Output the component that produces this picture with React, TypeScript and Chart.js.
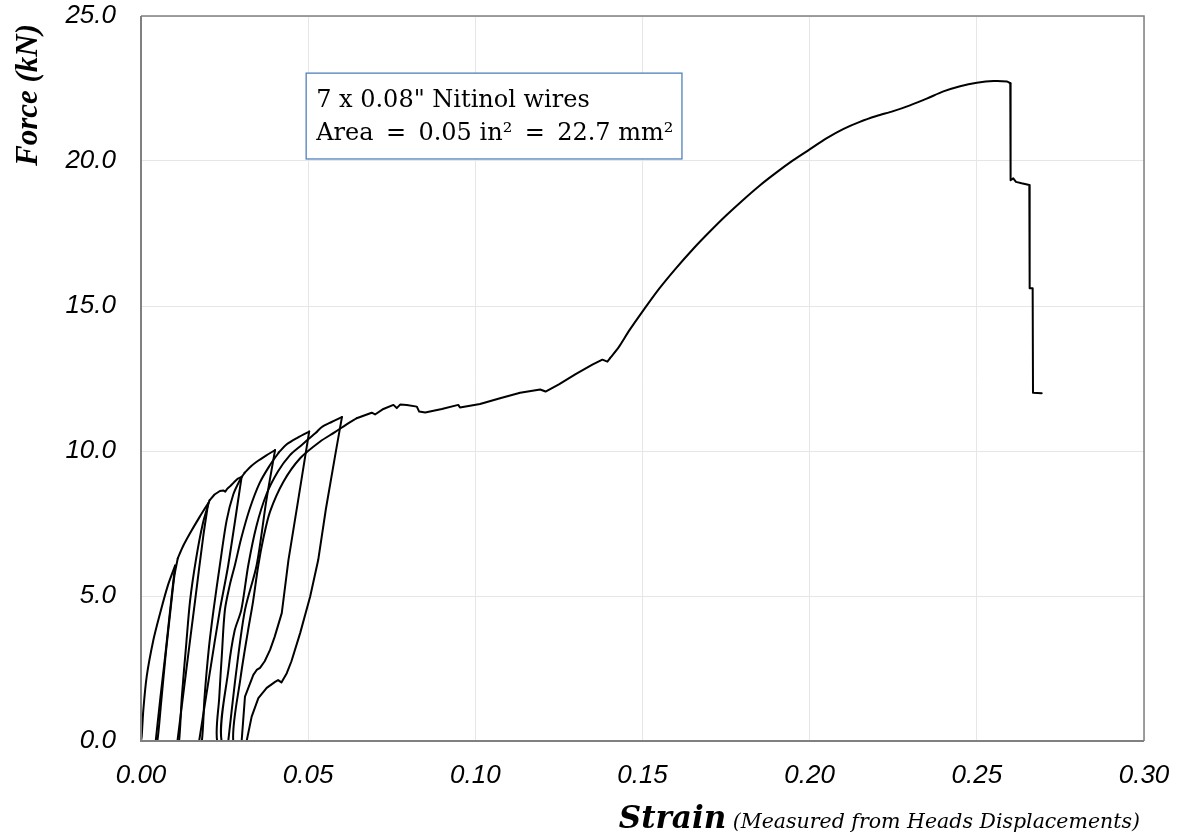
import React, { useEffect, useRef } from "react";
import { Chart, registerables } from "chart.js";

Chart.register(...registerables);

// ---- axis ticks ----
const xTicks = [0, 0.05, 0.1, 0.15, 0.2, 0.25, 0.3];
const yTicks = [0, 5, 10, 15, 20, 25];

// ---- data segments (strain, force kN), in test order ----
const env0Strain = [0, 0.0002, 0.0007, 0.0017, 0.0037, 0.0057, 0.008, 0.0102];
const env0Force = [0, 0.15, 1.07, 2.22, 3.48, 4.4, 5.35, 6.05];

const c1DownStrain = [0.0087, 0.0073, 0.0058, 0.0044];
const c1DownForce = [4.5, 3.0, 1.5, 0];
const c1UpStrain = [0.0049, 0.006, 0.0074, 0.0089, 0.01, 0.011];
const c1UpForce = [0, 1.3, 3.0, 4.6, 5.7, 6.3];

const env1Strain = [0.0125, 0.0147, 0.0175, 0.0201];
const env1Force = [6.7, 7.17, 7.72, 8.2];

const c2DownStrain = [0.0186, 0.0162, 0.0135, 0.0109];
const c2DownForce = [7.04, 4.86, 2.4, 0];
const c2UpStrain = [0.0114, 0.0122, 0.0135, 0.0147, 0.0165, 0.0185, 0.0205];
const c2UpForce = [0, 1.5, 3.3, 4.86, 6.3, 7.5, 8.3];

const env2Strain = [0.022, 0.0236, 0.0246, 0.0252, 0.0258, 0.0268, 0.0278, 0.029, 0.0301];
const env2Force = [8.5, 8.62, 8.64, 8.6, 8.7, 8.8, 8.92, 9.05, 9.11];

const c3DownStrain = [0.0261, 0.0236, 0.0205, 0.0174];
const c3DownForce = [6.07, 4.52, 2.3, 0];
const c3UpStrain = [0.0182, 0.019, 0.0203, 0.0217, 0.0236, 0.0256, 0.0276, 0.0296, 0.031];
const c3UpForce = [0, 1.5, 3.2, 4.52, 6.07, 7.6, 8.5, 9.0, 9.25];

const env3Strain = [0.033, 0.0346, 0.0375, 0.0401];
const env3Force = [9.48, 9.63, 9.85, 10.03];

const c4DownStrain = [0.0375, 0.0346, 0.0311, 0.0285, 0.0261];
const c4DownForce = [8.3, 6.07, 4.52, 2.4, 0];
const c4UpStrain = [0.0228, 0.0234, 0.0242, 0.0251, 0.0266, 0.0281, 0.03, 0.0325, 0.0355, 0.0385, 0.0412];
const c4UpForce = [0, 1.5, 3.0, 4.52, 5.4, 6.07, 7.0, 8.0, 8.9, 9.5, 9.95];

const env4Strain = [0.0436, 0.047, 0.0503];
const env4Force = [10.23, 10.47, 10.67];

const c5DownStrain = [0.047, 0.0441, 0.0421, 0.04, 0.0386, 0.037, 0.0356, 0.0346, 0.0336, 0.0311, 0.0301];
const c5DownForce = [8.3, 6.24, 4.41, 3.6, 3.14, 2.75, 2.52, 2.45, 2.28, 1.53, 0];
const c5UpStrain = [0.0241, 0.0262, 0.028, 0.03, 0.0321, 0.0345, 0.0375, 0.041, 0.0445, 0.048, 0.051, 0.0525];
const c5UpForce = [0, 2.5, 3.8, 4.52, 6.07, 7.4, 8.5, 9.3, 9.85, 10.2, 10.5, 10.65];

const env5Strain = [0.054, 0.057, 0.0601];
const env5Force = [10.82, 11.0, 11.17];

const c6DownStrain = [0.058, 0.0553, 0.053, 0.0506, 0.0476, 0.045, 0.0436, 0.042, 0.041, 0.0401, 0.0376, 0.0351, 0.0331, 0.0316];
const c6DownForce = [9.8, 8.0, 6.24, 4.98, 3.72, 2.75, 2.34, 2.02, 2.1, 2.04, 1.83, 1.48, 0.84, 0];
const c6UpStrain = [0.0276, 0.0298, 0.032, 0.0335, 0.0351, 0.0366, 0.0386, 0.0426, 0.0476, 0.0535, 0.058, 0.0615, 0.0645];
const c6UpForce = [0, 2.2, 3.8, 4.8, 6.07, 6.99, 7.91, 8.94, 9.75, 10.32, 10.65, 10.92, 11.13];

const plateauStrain = [
  0.069, 0.07, 0.0725, 0.0755, 0.0765, 0.0775, 0.0795, 0.0825, 0.0832, 0.085, 0.09, 0.0949, 0.0954,
  0.1014, 0.1074, 0.1134, 0.1194, 0.121, 0.125, 0.13, 0.135, 0.138, 0.1395, 0.1403,
];
const plateauForce = [
  11.32, 11.26, 11.45, 11.59, 11.48, 11.6, 11.59, 11.53, 11.36, 11.33, 11.45, 11.59, 11.5,
  11.62, 11.82, 12.01, 12.12, 12.05, 12.3, 12.65, 12.98, 13.15, 13.08, 13.2,
];

const hardenStrain = [
  0.143, 0.146, 0.1503, 0.155, 0.16, 0.165, 0.17, 0.175, 0.18, 0.185, 0.19, 0.195, 0.2, 0.205,
  0.21, 0.215, 0.22, 0.225, 0.23, 0.235, 0.24, 0.245, 0.25, 0.255, 0.259, 0.26,
];
const hardenForce = [
  13.6, 14.15, 14.86, 15.6, 16.3, 16.95, 17.55, 18.12, 18.65, 19.15, 19.6, 20.02, 20.4, 20.78,
  21.1, 21.35, 21.55, 21.72, 21.92, 22.15, 22.4, 22.58, 22.7, 22.76, 22.74, 22.68,
];

const fractureStrain = [0.2601, 0.2609, 0.2617, 0.2634, 0.2657, 0.2658, 0.2667, 0.2668, 0.2694];
const fractureForce = [19.34, 19.4, 19.28, 19.23, 19.17, 15.61, 15.61, 12.01, 11.99];

// [strain, force, smooth?]
const segments: [number[], number[], boolean][] = [
  [env0Strain, env0Force, true],
  [c1DownStrain, c1DownForce, true],
  [c1UpStrain, c1UpForce, true],
  [env1Strain, env1Force, true],
  [c2DownStrain, c2DownForce, true],
  [c2UpStrain, c2UpForce, true],
  [env2Strain, env2Force, false],
  [c3DownStrain, c3DownForce, true],
  [c3UpStrain, c3UpForce, true],
  [env3Strain, env3Force, true],
  [c4DownStrain, c4DownForce, true],
  [c4UpStrain, c4UpForce, true],
  [env4Strain, env4Force, true],
  [c5DownStrain, c5DownForce, false],
  [c5UpStrain, c5UpForce, true],
  [env5Strain, env5Force, true],
  [c6DownStrain, c6DownForce, false],
  [c6UpStrain, c6UpForce, true],
  [plateauStrain, plateauForce, false],
  [hardenStrain, hardenForce, true],
  [fractureStrain, fractureForce, false],
];

const noteLine1 = '7 x 0.08" Nitinol wires';
const noteLine2 = "Area \u2009=\u2009 0.05 in\u00B2 \u2009=\u2009 22.7 mm\u00B2";
const yTitle = "Force (kN)";
const xTitleMain = "Strain";
const xTitleSub = " (Measured from Heads Displacements)";

const W = 1183;
const H = 837;

const framePlugin = {
  id: "frame",
  afterDraw(chart: any) {
    const ctx = chart.ctx as CanvasRenderingContext2D;
    const { left, top, right, bottom } = chart.chartArea;
    const xs = chart.scales.x;
    const ys = chart.scales.y;
    ctx.save();
    // frame
    ctx.strokeStyle = "#808080";
    ctx.lineWidth = 1.5;
    ctx.beginPath();
    ctx.moveTo(left, top);
    ctx.lineTo(right, top);
    ctx.lineTo(right, bottom);
    ctx.stroke();
    ctx.lineWidth = 2;
    ctx.beginPath();
    ctx.moveTo(left, top);
    ctx.lineTo(left, bottom);
    ctx.lineTo(right, bottom);
    ctx.stroke();

    // annotation box
    const bx0 = xs.getPixelForValue(0.0494);
    const bx1 = xs.getPixelForValue(0.1618);
    const by0 = ys.getPixelForValue(23.03);
    const by1 = ys.getPixelForValue(20.07);
    ctx.fillStyle = "#ffffff";
    ctx.fillRect(bx0, by0, bx1 - bx0, by1 - by0);
    ctx.strokeStyle = "#4f81bd";
    ctx.lineWidth = 1.3;
    ctx.strokeRect(bx0, by0, bx1 - bx0, by1 - by0);
    ctx.fillStyle = "#000";
    ctx.font = '24px "DejaVu Serif"';
    ctx.textAlign = "left";
    ctx.textBaseline = "alphabetic";
    ctx.fillText(noteLine1, bx0 + 10, by0 + 34);
    ctx.fillText(noteLine2, bx0 + 10, by0 + 67);

    // y title
    ctx.save();
    ctx.translate(37, 95);
    ctx.rotate(-Math.PI / 2);
    ctx.font = 'italic bold 31px "Liberation Serif"';
    ctx.textAlign = "center";
    ctx.fillText(yTitle, 0, 0);
    ctx.restore();

    // x title
    ctx.font = 'italic 20.5px "DejaVu Serif"';
    const subW = ctx.measureText(xTitleSub).width;
    const xEnd = 1140;
    ctx.textAlign = "left";
    ctx.fillText(xTitleSub, xEnd - subW, 828);
    ctx.font = 'italic bold 31px "DejaVu Serif"';
    const mainW = ctx.measureText(xTitleMain).width;
    ctx.fillText(xTitleMain, xEnd - subW - mainW, 828);
    ctx.restore();
  },
};

export default function App() {
  const ref = useRef<HTMLCanvasElement | null>(null);
  useEffect(() => {
    if (!ref.current) return;
    const datasets = segments.map(([s, f, smooth], k) => {
      const pts = s.map((x, i) => ({ x, y: f[i] }));
      if (k > 0) {
        const [ps, pf] = segments[k - 1];
        pts.unshift({ x: ps[ps.length - 1], y: pf[pf.length - 1] });
      }
      return {
        data: pts,
        showLine: true,
        borderColor: "#000000",
        borderWidth: 2,
        pointRadius: 0,
        tension: smooth ? 0.3 : 0,
        fill: false,
        borderJoinStyle: "round",
        borderCapStyle: "round",
      } as any;
    });
    const tickFont = { family: '"Liberation Sans", Arial, sans-serif', size: 26, style: "italic" as const };
    const chart = new Chart(ref.current, {
      type: "scatter",
      data: { datasets },
      options: {
        animation: false,
        responsive: false,
        maintainAspectRatio: false,
        layout: { padding: { left: 0, right: 39, top: 16, bottom: 0 } },
        plugins: { legend: { display: false }, tooltip: { enabled: false } },
        scales: {
          x: {
            type: "linear",
            min: xTicks[0],
            max: xTicks[xTicks.length - 1],
            afterBuildTicks: (s: any) => {
              s.ticks = xTicks.map((v) => ({ value: v }));
            },
            afterFit: (s: any) => {
              s.height = 96;
              s.paddingLeft = 0;
              s.paddingRight = 0;
            },
            ticks: {
              font: tickFont,
              color: "#000",
              padding: 19,
              maxRotation: 0,
              autoSkip: false,
              callback: (v: any) => Number(v).toFixed(2),
            },
            grid: { color: "#e6e6e6", lineWidth: 1, drawTicks: false },
            border: { display: false },
          },
          y: {
            type: "linear",
            min: yTicks[0],
            max: yTicks[yTicks.length - 1],
            afterBuildTicks: (s: any) => {
              s.ticks = yTicks.map((v) => ({ value: v }));
            },
            afterFit: (s: any) => {
              s.width = 141;
              s.paddingTop = 0;
              s.paddingBottom = 0;
            },
            ticks: {
              font: tickFont,
              color: "#000",
              padding: 25,
              autoSkip: false,
              callback: (v: any) => Number(v).toFixed(1),
            },
            grid: { color: "#e6e6e6", lineWidth: 1, drawTicks: false },
            border: { display: false },
          },
        },
      },
      plugins: [framePlugin],
    });
    return () => chart.destroy();
  }, []);
  return (
    <div style={{ position: "absolute", left: 0, top: 0, width: W, height: H, background: "#fff" }}>
      <canvas ref={ref} width={W} height={H} style={{ display: "block" }} />
    </div>
  );
}
